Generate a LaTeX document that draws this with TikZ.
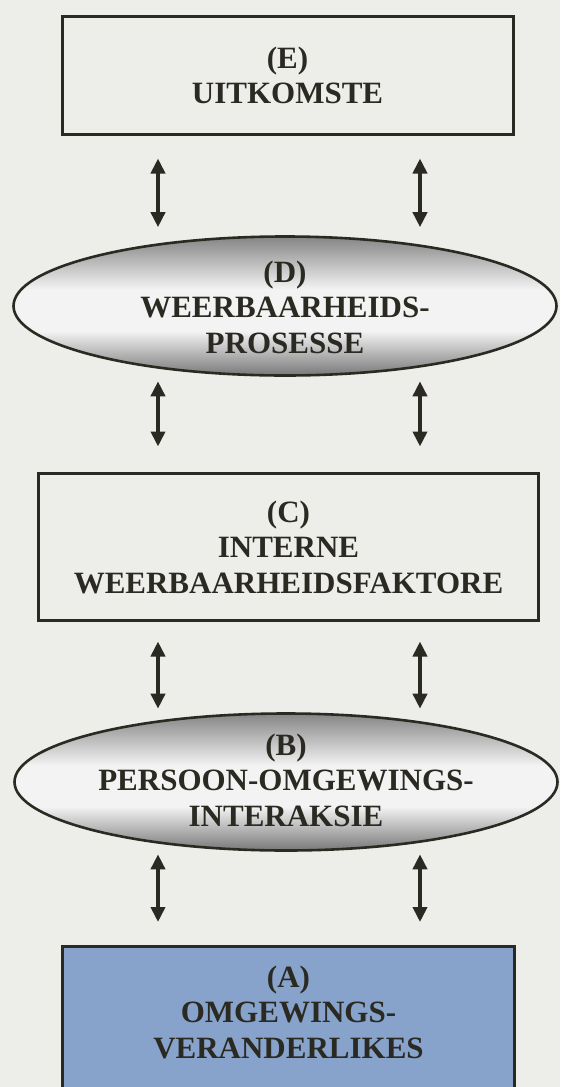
\documentclass[tikz,border=0pt]{standalone}
\usepackage{fontspec}
\setmainfont{Liberation Serif}
\usetikzlibrary{arrows.meta,shapes.geometric}
\definecolor{paper}{HTML}{EDEDEA}
\definecolor{ink}{HTML}{2B2A22}
\definecolor{envblue}{HTML}{87A3CB}
\definecolor{shadetop}{HTML}{858585}
\definecolor{shadebottom}{HTML}{787878}
\definecolor{shademid}{HTML}{F3F3F3}

% grey band shading: dark rims, broad light band just under the middle
\pgfdeclareverticalshading{rimshade}{100bp}{%
  color(0bp)=(shadebottom); color(25bp)=(shadebottom);
  color(41bp)=(shademid); color(56bp)=(shademid);
  color(75bp)=(shadetop); color(100bp)=(shadetop)}

\begin{document}
\begin{tikzpicture}[x=1pt,y=-1pt,
  labeltext/.style={font=\fontsize{31}{35.5}\selectfont\bfseries, text=ink, align=center, inner sep=0pt},
  factorbox/.style={rectangle, draw=ink, line width=3pt, inner sep=0pt},
  processell/.style={ellipse, draw=ink, line width=2.6pt, inner sep=0pt, shading=rimshade},
  biarrow/.style={draw=ink, line width=3.7pt,
    {Triangle[width=14pt,length=15pt]}-{Triangle[width=14pt,length=15pt]}},
]
% page and clipping
\path[use as bounding box, fill=paper] (0,0) rectangle (560,1087);
\clip (0,0) rectangle (560,1087);

% columns of the two-way arrows
\coordinate (L) at (158,0);
\coordinate (R) at (420,0);

% (E) outcomes
\node[factorbox, labeltext, minimum width=451pt, minimum height=118pt] (E) at (287.5,75.5)
  {(E)\\UITKOMSTE};

% (D) resilience processes
\node[processell, minimum width=543pt, minimum height=139pt] (D) at (285,306) {};
\node[labeltext] (Dtext) at (285,307) {(D)\\WEERBAARHEIDS-\\PROSESSE};

% (C) internal resilience factors
\node[factorbox, labeltext, minimum width=500pt, minimum height=147pt] (C) at (288.5,547)
  {(C)\\INTERNE\\WEERBAARHEIDSFAKTORE};

% (B) person-environment interaction
\node[processell, minimum width=543pt, minimum height=137pt] (B) at (286,782) {};
\node[labeltext] (Btext) at (286,780) {(B)\\PERSOON-OMGEWINGS-\\INTERAKSIE};

% (A) environmental variables
\node[factorbox, fill=envblue, minimum width=452pt, minimum height=150pt, anchor=north] (A) at (288.5,944.5) {};
\node[labeltext] (Atext) at (288.5,1012) {(A)\\OMGEWINGS-\\VERANDERLIKES};

% two-way arrows between the levels
\draw[biarrow, shorten <=22.5pt, shorten >=8pt] (E.south -| L) -- (D.north -| L);
\draw[biarrow, shorten <=22.5pt, shorten >=8pt] (E.south -| R) -- (D.north -| R);
\draw[biarrow, shorten <=4.5pt, shorten >=25.5pt] (D.south -| L) -- (C.north -| L);
\draw[biarrow, shorten <=4.5pt, shorten >=25.5pt] (D.south -| R) -- (C.north -| R);
\draw[biarrow, shorten <=19.5pt, shorten >=3.5pt] (C.south -| L) -- (B.north -| L);
\draw[biarrow, shorten <=19.5pt, shorten >=3.5pt] (C.south -| R) -- (B.north -| R);
\draw[biarrow, shorten <=2.5pt, shorten >=22.5pt] (B.south -| L) -- (A.north -| L);
\draw[biarrow, shorten <=2.5pt, shorten >=22.5pt] (B.south -| R) -- (A.north -| R);
\end{tikzpicture}
\end{document}
